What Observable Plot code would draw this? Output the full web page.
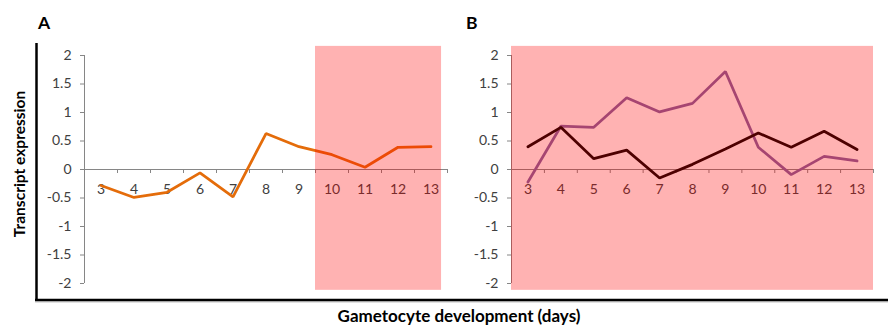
<!DOCTYPE html>
<html>
<head>
<meta charset="utf-8">
<script src="https://cdn.jsdelivr.net/npm/d3@7"></script>
<script src="https://cdn.jsdelivr.net/npm/@observablehq/plot@0.6"></script>
<style>
  html, body { margin: 0; padding: 0; background: #fff; }
  #wrap { position: relative; width: 888px; height: 325px; overflow: hidden; font-family: Lato, "Liberation Sans", sans-serif; }
  #wrap > svg, #wrap > .panel { position: absolute; top: 0; }
  .panel svg { overflow: visible; }
</style>
</head>
<body>
<div id="wrap">
  <svg id="deco" width="888" height="325" style="left:0">
    <line x1="36.5" y1="43" x2="36.5" y2="301" stroke="#000" stroke-width="2.5"/>
    <line x1="35" y1="300" x2="888" y2="300" stroke="#000" stroke-width="2.5"/>
    <line x1="35" y1="301.8" x2="888" y2="301.8" stroke="#9a9a9a" stroke-width="1"/>
    <text x="38" y="29" font-family="Lato, 'Liberation Sans', sans-serif" font-weight="bold" font-size="17.5">A</text>
    <text x="466" y="29" font-family="Lato, 'Liberation Sans', sans-serif" font-weight="bold" font-size="17.5">B</text>
    <text transform="translate(25,164) rotate(-90)" text-anchor="middle" font-family="Lato, 'Liberation Sans', sans-serif" font-weight="bold" font-size="15.5">Transcript expression</text>
    <text x="459" y="322" text-anchor="middle" font-family="Lato, 'Liberation Sans', sans-serif" font-weight="bold" font-size="17">Gametocyte development (days)</text>
  </svg>
  <div id="panelA" class="panel" style="left:0"></div>
  <div id="panelB" class="panel" style="left:444px"></div>
</div>
<script>
// ---- data ----
const days = [3, 4, 5, 6, 7, 8, 9, 10, 11, 12, 13];
const seriesA = [-0.28, -0.49, -0.40, -0.06, -0.48, 0.63, 0.40, 0.26, 0.04, 0.39, 0.40];
const seriesBBlack = [0.40, 0.74, 0.19, 0.34, -0.15, 0.09, 0.36, 0.64, 0.39, 0.67, 0.35];
const seriesBPurple = [-0.22, 0.76, 0.74, 1.26, 1.01, 1.16, 1.72, 0.39, -0.09, 0.23, 0.15];
const yTicks = [-2, -1.5, -1, -0.5, 0, 0.5, 1, 1.5, 2];
const dayLabels = days.map(String);
const shadeA = [{x1: 9.5, x2: 13.32, y1: -2.12, y2: 2.16}];
const shadeB = [{x1: 2.5, x2: 13.5, y1: -2.12, y2: 2.16}];

const axisGrey = "#868686";
const labelColor = "#404040";
const bounds = days.map(d => d + 0.5);
const xDomain = [days[0] - 0.5, days[days.length - 1] + 0.5];

function rows(values) { return days.map((d, i) => ({day: d, value: values[i]})); }

function panel({width, marginLeft, marginRight, series, shade}) {
  const innerH = 325 - 55 - 42;
  const tickLen = 4 * 4 / innerH;
  return Plot.plot({
    width, height: 325,
    marginLeft, marginRight, marginTop: 55, marginBottom: 42,
    x: {domain: xDomain, axis: null},
    y: {domain: [-2, 2]},
    style: {fontFamily: "Lato, 'Liberation Sans', sans-serif", fontSize: "14px", background: "transparent", overflow: "visible"},
    marks: [
      Plot.ruleX([xDomain[0]], {y1: -2, y2: 2, stroke: axisGrey}),
      Plot.axisY(yTicks, {tickSize: 4, tickPadding: 9, stroke: axisGrey, fill: labelColor, tickFormat: d => String(d)}),
      Plot.ruleY([0], {x1: xDomain[0], x2: xDomain[1], stroke: axisGrey}),
      Plot.ruleX(bounds, {y1: 0, y2: -tickLen, stroke: axisGrey}),
      Plot.text(days, {x: d => d, y: 0, dy: 20, text: (d, i) => dayLabels[i], fill: labelColor}),
      ...series.map(s => Plot.line(rows(s.values), {x: "day", y: "value", stroke: s.color, strokeWidth: 2.75, strokeLinejoin: "miter"})),
      Plot.rect(shade, {x1: "x1", x2: "x2", y1: "y1", y2: "y2", fill: "#ff0000", fillOpacity: 0.3})
    ]
  });
}

document.getElementById("panelA").append(panel({
  width: 450, marginLeft: 84, marginRight: 3,
  series: [{values: seriesA, color: "#E46C0A"}],
  shade: shadeA
}));
document.getElementById("panelB").append(panel({
  width: 444, marginLeft: 67, marginRight: 15,
  series: [{values: seriesBPurple, color: "#8064A2"}, {values: seriesBBlack, color: "#000000"}],
  shade: shadeB
}));
</script>
</body>
</html>
